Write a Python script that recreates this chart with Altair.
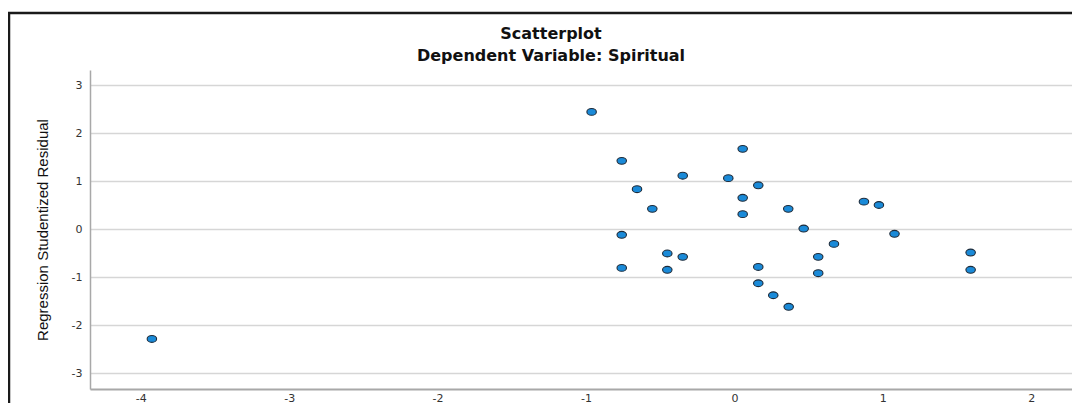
import altair as alt
import pandas as pd

# Standardized predicted value (x) and studentized residual (y)
pred = [-3.925, -0.962, -0.759, 0.056, -0.348, -0.041, -0.656, 0.161, 0.056, -0.553,
        0.056, 0.363, 0.873, 0.974, 0.467, -0.759, 0.671, 1.079, 1.592, 1.592,
        -0.452, -0.348, -0.759, -0.452, 0.161, 0.161, 0.262, 0.366, 0.565, 0.565]
resid = [-2.29, 2.44, 1.42, 1.67, 1.11, 1.06, 0.83, 0.91, 0.65, 0.42,
         0.31, 0.42, 0.57, 0.50, 0.01, -0.12, -0.31, -0.10, -0.49, -0.85,
         -0.51, -0.58, -0.81, -0.85, -0.79, -1.13, -1.38, -1.62, -0.58, -0.92]
x_ticks = [-4, -3, -2, -1, 0, 1, 2]
y_ticks = [-3, -2, -1, 0, 1, 2, 3]
titles = ["Scatterplot", "Dependent Variable: Spiritual"]
y_title = "Regression Studentized Residual"

df = pd.DataFrame({"pred": pred, "resid": resid})

W, H = 982, 319
PAD_L, PAD_T = 82, 62
ellipse = "M-1,0A1,0.72,0,1,0,1,0A1,0.72,0,1,0,-1,0Z"

points = alt.Chart(df).mark_point(
    shape=ellipse, filled=True, size=90, fill="#1a8ad8", stroke="#1d2b3a",
    strokeWidth=1.1, opacity=1
).encode(
    x=alt.X("pred:Q", scale=alt.Scale(domain=[-4.342, 2.275], nice=False, zero=False),
            axis=alt.Axis(values=x_ticks, grid=False, ticks=False, title=None,
                          labelExpr="'' + datum.value",
                          domainColor="#a8a8a8", domainWidth=2, labelPadding=3,
                          labelFont="DejaVu Sans", labelFontSize=11, labelColor="#333333")),
    y=alt.Y("resid:Q", scale=alt.Scale(domain=[-3.333, 3.3125], nice=False, zero=False),
            axis=alt.Axis(values=y_ticks, grid=True, gridColor="#d6d6d6", gridWidth=1.5,
                          ticks=False, domainColor="#a8a8a8", domainWidth=1.5,
                          labelExpr="'' + datum.value",
                          labelPadding=8, labelFont="DejaVu Sans", labelFontSize=11,
                          labelColor="#333333",
                          title=y_title,
                          titleFont="Liberation Sans", titleFontSize=15,
                          titleFontWeight="normal", titleColor="#111111",
                          titleX=-48, titleY=H / 2, titleAngle=270, titleAlign="center",
                          titleBaseline="middle")),
)

frame = alt.Chart(alt.Data(values=[{}])).mark_rect(
    fill=None, stroke="#1a1a1a", strokeWidth=2.5
).encode(x=alt.value(-81), x2=alt.value(1100), y=alt.value(-57), y2=alt.value(420))

title1 = alt.Chart(alt.Data(values=[{"t": titles[0]}])).mark_text(
    font="DejaVu Sans", fontSize=16, fontWeight="bold", color="#111111",
    align="center", baseline="alphabetic"
).encode(text="t:N", x=alt.value(461), y=alt.value(-31))
title2 = alt.Chart(alt.Data(values=[{"t": titles[1]}])).mark_text(
    font="DejaVu Sans", fontSize=16, fontWeight="bold", color="#111111",
    align="center", baseline="alphabetic"
).encode(text="t:N", x=alt.value(461), y=alt.value(-9))

chart = alt.layer(frame, title1, title2, points).properties(
    width=W, height=H,
    autosize=alt.AutoSizeParams(type="none"),
    padding={"left": PAD_L, "top": PAD_T, "right": 0, "bottom": 14},
).configure_view(stroke=None)

chart.save("out.html", embed_options={"renderer": "svg", "actions": False})
